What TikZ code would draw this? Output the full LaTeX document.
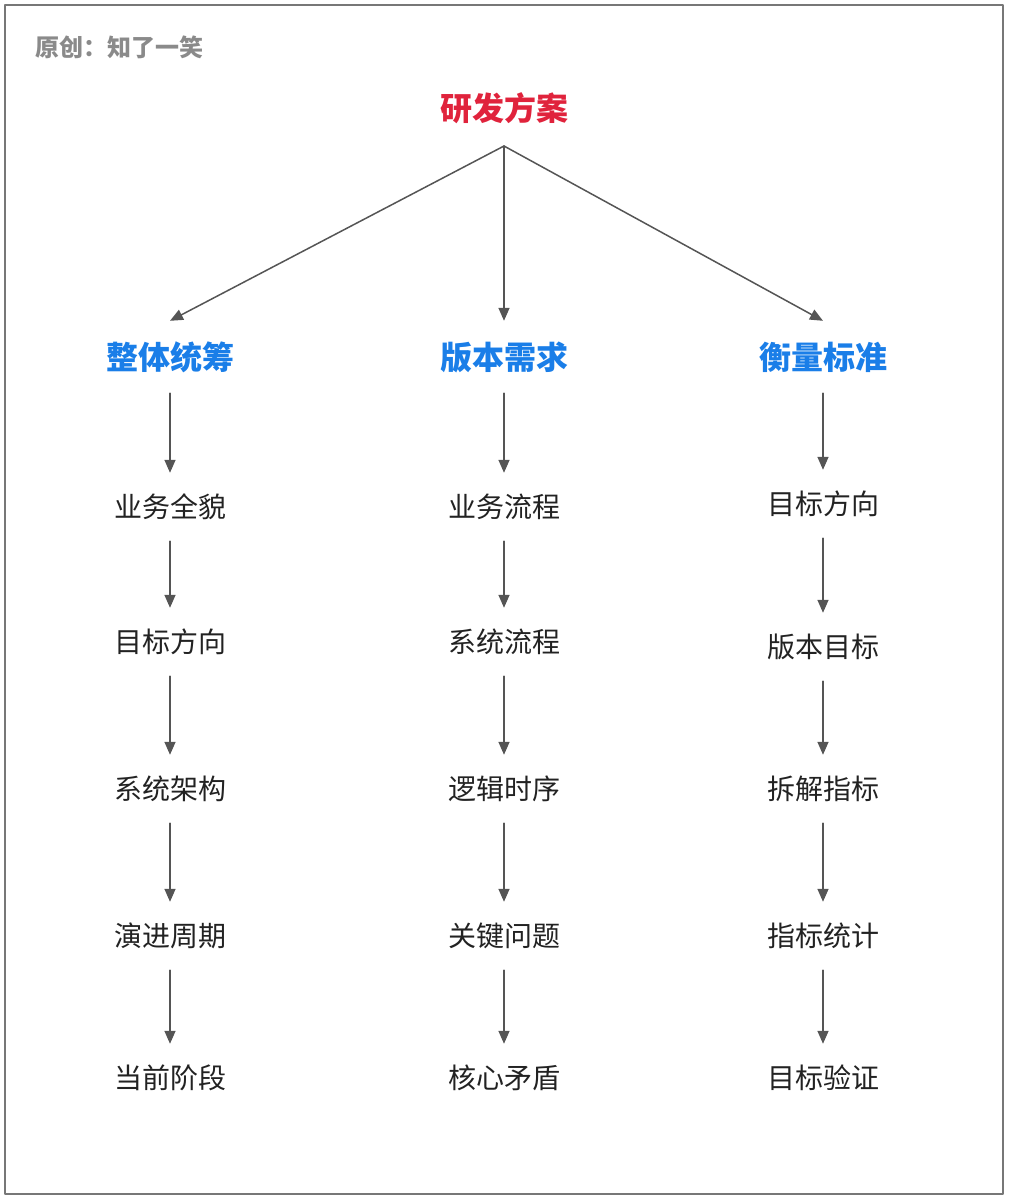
\documentclass[tikz,border=0pt]{standalone}
\usepackage{fontspec}
\usetikzlibrary{arrows.meta}
\newfontfamily\cjk{Noto Sans CJK SC}
\definecolor{titlered}{HTML}{E0233C}
\definecolor{headblue}{HTML}{1A7EE8}
\definecolor{notegray}{HTML}{8A8A8A}
\definecolor{linegray}{HTML}{555555}
\definecolor{framegray}{HTML}{777777}
\definecolor{itemblack}{HTML}{222222}
\tikzset{
  item/.style={font=\cjk\fontsize{28}{28}\selectfont,text=itemblack,inner xsep=0pt,
    inner ysep=20.5pt,text height=24pt,text depth=3pt},
  head/.style={font=\cjk\bfseries\fontsize{32}{32}\selectfont,text=headblue,inner xsep=0pt,
    inner ysep=21pt,text height=27pt,text depth=3pt},
  link/.style={-{Triangle[length=13pt,width=11pt]},line width=1.5pt,draw=linegray},
}
\begin{document}
\begin{tikzpicture}[x=1pt,y=-1pt,line cap=round,line join=round]
  % Outer frame and the note in its corner.
  \draw[draw=framegray,line width=2pt] (5,5) rectangle (1003,1194);
  \useasboundingbox (0,0) rectangle (1012,1200);
  \node[anchor=west,inner sep=0pt,text=notegray,font=\cjk\bfseries\fontsize{24}{24}\selectfont]
    (note) at (35,47) {原创：知了一笑};

  % Root and its three branches.
  \node[head,text=titlered] (plan) at (504,108) {研发方案};
  \coordinate (fork) at (504,146);
  \foreach \x/\name/\txt in {170/whole/整体统筹,504/version/版本需求,823/measure/衡量标准}{
    \node[head] (\name) at (\x,357) {\txt};
    \draw[link] (fork) -- (\name.north);
  }

  % Steps under each branch.
  \foreach \y/\txt [count=\i] in {507/业务全貌,642/目标方向,789/系统架构,936/演进周期,1078/当前阶段}
    \node[item] (whole\i) at (170,\y) {\txt};
  \foreach \y/\txt [count=\i] in {507/业务流程,642/系统流程,789/逻辑时序,936/关键问题,1078/核心矛盾}
    \node[item] (version\i) at (504,\y) {\txt};
  \foreach \y/\txt [count=\i] in {504/目标方向,647/版本目标,789/拆解指标,936/指标统计,1078/目标验证}
    \node[item] (measure\i) at (823,\y) {\txt};

  \foreach \col in {whole,version,measure}{
    \draw[link] (\col) -- (\col1);
    \foreach \i/\j in {1/2,2/3,3/4,4/5}
      \draw[link] (\col\i) -- (\col\j);
  }
\end{tikzpicture}
\end{document}
